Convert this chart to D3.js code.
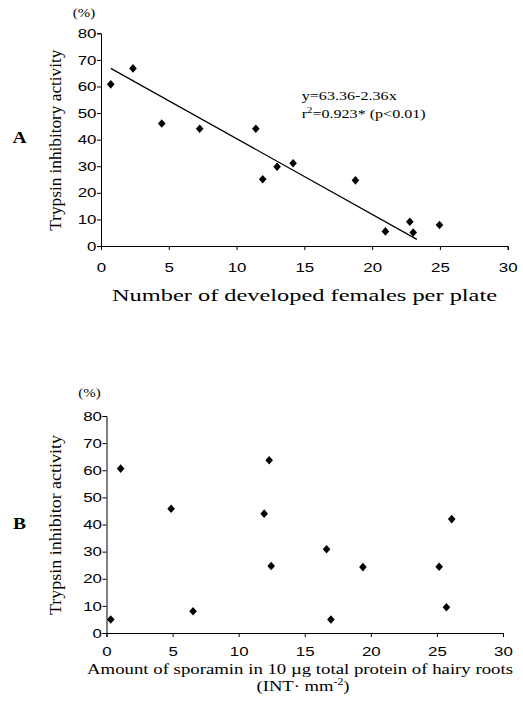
<!DOCTYPE html>
<html>
<head>
<meta charset="utf-8">
<script src="https://cdn.jsdelivr.net/npm/d3@7"></script>
<style>
  body { margin: 0; background: #fff; }
  svg { display: block; }
  .tick text { font-family: "Liberation Sans", Arial, sans-serif; }
  .serif { font-family: "Liberation Serif", "Times New Roman", serif; }
</style>
</head>
<body>
<svg id="chart" width="523" height="713"></svg>
<script>
// panel A: developed females vs trypsin inhibitory activity
const femalesA = [0.72, 2.36, 4.48, 7.28, 11.42, 11.93, 12.99, 14.17, 18.77, 20.98, 22.78, 23.03, 24.97];
const activityA = [60.8, 66.8, 46.1, 44.1, 44.1, 25.1, 29.8, 31.1, 24.7, 5.5, 9.1, 5.1, 7.9];
// trend line end points as drawn in the figure
const trendA = [[0.72, 66.8], [23.3, 2.5]];

// panel B: sporamin amount vs trypsin inhibitor activity
const sporaminB = [0.32, 1.07, 4.89, 6.55, 11.93, 12.31, 12.46, 16.65, 16.98, 19.4, 25.17, 25.72, 26.12];
const activityB = [5.0, 60.6, 45.8, 8.0, 44.0, 63.7, 24.7, 30.9, 5.0, 24.3, 24.4, 9.5, 42.0];

const xTicks = [0, 5, 10, 15, 20, 25, 30];
const yTicks = [0, 10, 20, 30, 40, 50, 60, 70, 80];

const svg = d3.select("#chart");
svg.append("rect").attr("width", 523).attr("height", 713).attr("fill", "#fff");

const SX = 1.3; // the original glyphs are wider than ours

const diamond = {
  draw(ctx) {
    ctx.moveTo(0, -4.3);
    ctx.lineTo(3.8, 0);
    ctx.lineTo(0, 4.3);
    ctx.lineTo(-3.8, 0);
    ctx.closePath();
  },
};

const drawPanel = ({ xData, yData, xRange, yRange, xPad, letter, letterY, pctY, yTitle, xTitleLines, trend }) => {
  const x = d3.scaleLinear().domain([0, 30]).range(xRange);
  const y = d3.scaleLinear().domain([0, 80]).range(yRange);

  const gx = svg
    .append("g")
    .attr("transform", `translate(0,${yRange[0]})`)
    .call(d3.axisBottom(x).tickValues(xTicks).tickSize(4).tickPadding(xPad));
  gx.selectAll("text")
    .attr("font-size", 13)
    .attr("fill", "#000")
    .attr("transform", `scale(${SX},1)`);

  const gy = svg
    .append("g")
    .attr("transform", `translate(${xRange[0]},0)`)
    .call(d3.axisLeft(y).tickValues(yTicks).tickSize(4));
  gy.selectAll("text")
    .attr("font-size", 13)
    .attr("fill", "#000")
    .attr("x", -4.5 / SX)
    .attr("transform", `scale(${SX},1)`);

  svg.selectAll(".domain, .tick line").attr("stroke", "#000");

  // markers
  svg
    .append("g")
    .selectAll("path")
    .data(xData)
    .enter()
    .append("path")
    .attr("d", d3.symbol().type(diamond))
    .attr("transform", (d, i) => `translate(${x(d)},${y(yData[i])})`)
    .attr("fill", "#000");

  if (trend) {
    svg
      .append("path")
      .datum(trend)
      .attr("d", d3.line().x((d) => x(d[0])).y((d) => y(d[1])))
      .attr("fill", "none")
      .attr("stroke", "#000")
      .attr("stroke-width", 1.2);
  }

  // panel letter
  svg
    .append("text")
    .attr("class", "serif")
    .attr("x", 19.5)
    .attr("y", letterY)
    .attr("text-anchor", "middle")
    .attr("font-size", 17)
    .attr("font-weight", "bold")
    .attr("transform", `translate(19.5,0) scale(1.15,1) translate(-19.5,0)`)
    .text(letter);

  // (%) unit
  const pctX = xRange[0] - 17;
  svg
    .append("text")
    .attr("class", "serif")
    .attr("x", pctX)
    .attr("y", pctY)
    .attr("text-anchor", "middle")
    .attr("font-size", 13)
    .attr("transform", `translate(${pctX},0) scale(1.15,1) translate(${-pctX},0)`)
    .text("(%)");

  // y title, rotated
  const yMid = (yRange[0] + yRange[1]) / 2 + 0.5;
  svg
    .append("text")
    .attr("class", "serif")
    .attr("transform", `translate(61,${yMid}) rotate(-90)`)
    .attr("text-anchor", "middle")
    .attr("font-size", 17)
    .attr("textLength", yTitle.len)
    .attr("lengthAdjust", "spacingAndGlyphs")
    .text(yTitle.text);

  // x title lines
  xTitleLines.forEach((t) => {
    const el = svg
      .append("text")
      .attr("class", "serif")
      .attr("x", t.cx)
      .attr("y", t.y)
      .attr("text-anchor", "middle")
      .attr("font-size", t.size)
      .attr("textLength", t.len)
      .attr("lengthAdjust", "spacingAndGlyphs");
    t.parts.forEach((p) => {
      const ts = el.append("tspan").text(p.text);
      if (p.sup) ts.attr("dy", -6).attr("font-size", 9.5);
      if (p.after) ts.attr("dy", 6);
    });
  });

  return { x, y };
};

drawPanel({
  xData: femalesA,
  yData: activityA,
  xRange: [101, 507.7],
  yRange: [246, 33.3],
  xPad: 13,
  letter: "A",
  letterY: 143,
  pctY: 17,
  yTitle: { text: "Trypsin inhibitory activity", len: 181 },
  xTitleLines: [
    { cx: 304.5, y: 301, size: 16, len: 385, parts: [{ text: "Number of developed females per plate" }] },
  ],
  trend: trendA,
});

drawPanel({
  xData: sporaminB,
  yData: activityB,
  xRange: [106.5, 503],
  yRange: [633, 416],
  xPad: 10,
  letter: "B",
  letterY: 529,
  pctY: 397,
  yTitle: { text: "Trypsin inhibitor activity", len: 180 },
  xTitleLines: [
    { cx: 300, y: 674, size: 15, len: 426, parts: [{ text: "Amount of  sporamin in 10 \u00b5g total protein of hairy roots" }] },
    {
      cx: 303,
      y: 690.5,
      size: 15,
      len: 93,
      parts: [{ text: "(INT\u00b7 mm" }, { text: "-2", sup: true }, { text: ")", after: true }],
    },
  ],
});

// regression note in panel A
const noteX = 301.7;
const note = svg
  .append("g")
  .attr("class", "serif")
  .attr("font-size", 13.5);
note
  .append("text")
  .attr("x", noteX)
  .attr("y", 100)
  .attr("textLength", 95)
  .attr("lengthAdjust", "spacingAndGlyphs")
  .text("y=63.36-2.36x");
const r2 = note
  .append("text")
  .attr("x", noteX)
  .attr("y", 117.5)
  .attr("textLength", 124)
  .attr("lengthAdjust", "spacingAndGlyphs");
r2.append("tspan").text("r");
r2.append("tspan").attr("dy", -5).attr("font-size", 9).text("2");
r2.append("tspan").attr("dy", 5).text("=0.923* (p<0.01)");
</script>
</body>
</html>
